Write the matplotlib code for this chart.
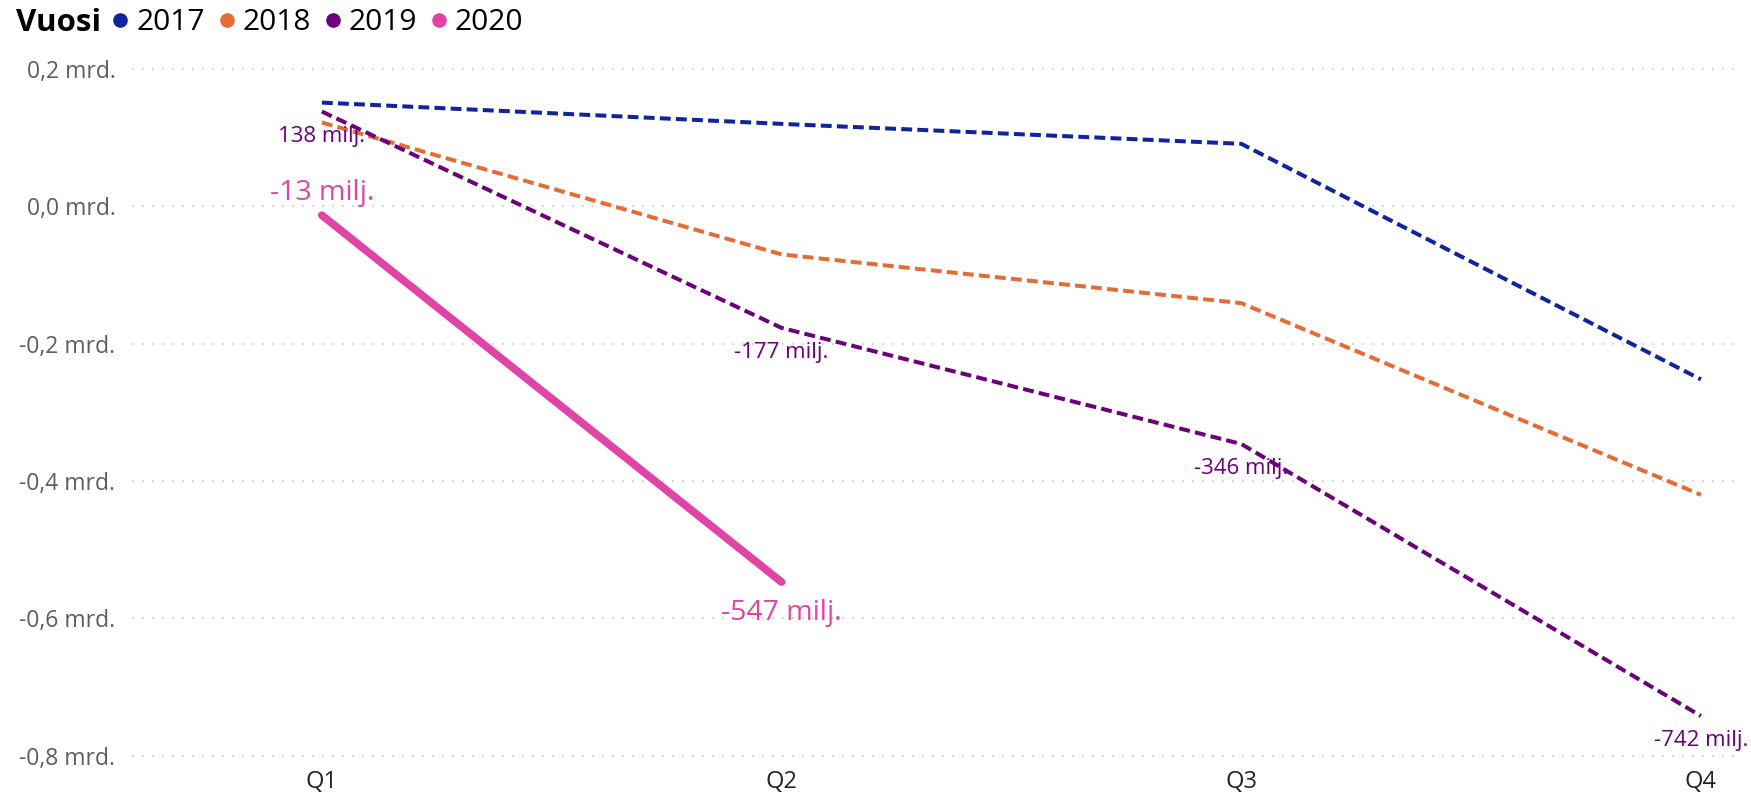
import matplotlib
matplotlib.use("Agg")
import matplotlib.pyplot as plt
from matplotlib.lines import Line2D

plt.rcParams['font.family'] = ['Open Sans', 'DejaVu Sans']

quarters = ["Q1", "Q2", "Q3", "Q4"]
years = ["2017", "2018", "2019", "2020"]
v2017 = [0.151, 0.120, 0.091, -0.252]
v2018 = [0.122, -0.070, -0.141, -0.420]
v2019 = [0.138, -0.177, -0.346, -0.742]
v2020 = [-0.013, -0.547]
labels2019 = ["138 milj.", "-177 milj.", "-346 milj.", "-742 milj."]
labels2020 = ["-13 milj.", "-547 milj."]
yticks = [0.2, 0.0, -0.2, -0.4, -0.6, -0.8]
ytick_labels = ["0,2 mrd.", "0,0 mrd.", "-0,2 mrd.", "-0,4 mrd.", "-0,6 mrd.", "-0,8 mrd."]

colors = {"2017": "#12239E", "2018": "#E66C37", "2019": "#6B007B", "2020": "#E044A7"}

fig = plt.figure(figsize=(17.51, 7.95), dpi=100)
ax = fig.add_axes([132/1751, 1-762/795, (1740-132)/1751, (762-60)/795])

x = list(range(len(quarters)))
dash = (2.7, 1.3)
for yr, vals in (("2017", v2017), ("2018", v2018), ("2019", v2019)):
    ax.plot(x[:len(vals)], vals, color=colors[yr], lw=2.9, dashes=dash, solid_capstyle='butt')
ax.plot(x[:len(v2020)], v2020, color=colors["2020"], lw=5.6, solid_capstyle='round')

for xi, yi, lab in zip(x, v2019, labels2019):
    ax.annotate(lab, (xi, yi), xytext=(0, -18), textcoords='offset points',
                ha='center', va='center', fontsize=16, color=colors["2019"])
offs2020 = [16, -22]
for xi, yi, lab, o in zip(x, v2020, labels2020, offs2020):
    ax.annotate(lab, (xi, yi), xytext=(0, o), textcoords='offset points',
                ha='center', va='center', fontsize=20.5, color=colors["2020"])

ax.set_xlim(-0.413, 3.085)
ax.set_ylim(-0.809, 0.213)
ax.set_xticks(x)
ax.set_xticklabels(quarters, fontsize=17, color="#252423")
ax.set_yticks(yticks)
ax.set_yticklabels(ytick_labels, fontsize=16.5, color="#605E5C")
ax.tick_params(length=0, pad=12)
ax.tick_params(axis='x', pad=6)
for s in ax.spines.values():
    s.set_visible(False)
ax.grid(axis='y', color="#C8C8C8", linestyle=(0, (1, 5)), linewidth=1.2)
ax.set_axisbelow(True)

handles = [Line2D([], [], marker='o', ls='none', color=colors[y], markersize=9.5) for y in years]
fig.text(16/1751, 1-23/795, "Vuosi", fontsize=22.5, fontweight='bold', va='center', ha='left', color="#000000")
leg = fig.legend(handles, years, loc='center left', bbox_to_anchor=(113/1751, 1-23/795), ncol=4,
                 frameon=False, fontsize=21.5, handlelength=0.5, handletextpad=0.28,
                 columnspacing=0.48, borderpad=0, borderaxespad=0)

fig.savefig("out.png", dpi=100, facecolor="white")
